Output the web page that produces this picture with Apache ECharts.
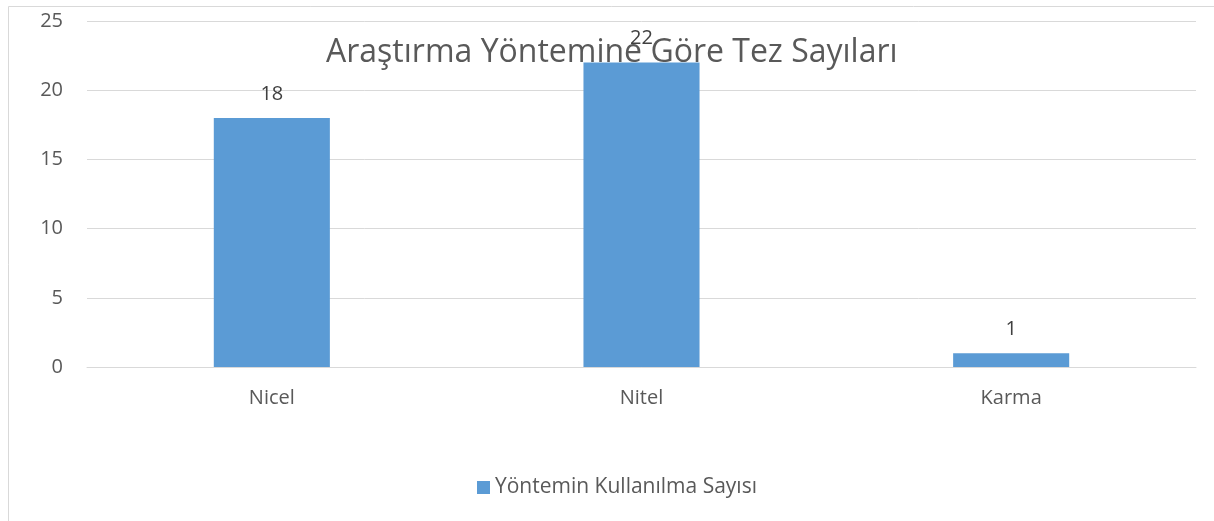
<!DOCTYPE html>
<html>
<head>
<meta charset="utf-8">
<script src="https://cdn.jsdelivr.net/npm/echarts@6/dist/echarts.min.js"></script>
<style>
  html, body { margin: 0; padding: 0; background: #fff; }
  #chart { width: 1214px; height: 521px; }
</style>
</head>
<body>
<div id="chart"></div>
<script>
const chartTitle = 'Araştırma Yöntemine Göre Tez Sayıları';
const seriesName = 'Yöntemin Kullanılma Sayısı';
const categories = ['Nicel', 'Nitel', 'Karma'];
const counts = [18, 22, 1];
const yTicks = { min: 0, max: 25, interval: 5 };

const FONT = '"Open Sans", "Noto Sans", sans-serif';
const chart = echarts.init(document.getElementById('chart'), null, { renderer: 'canvas' });

chart.setOption({
  animation: false,
  backgroundColor: '#ffffff',
  graphic: [{
    type: 'rect',
    silent: true,
    z: -1,
    shape: { x: 8.5, y: 6.5, width: 1230, height: 600 },
    style: { fill: 'none', stroke: '#d9d9d9', lineWidth: 1 }
  }],
  title: {
    text: chartTitle,
    left: 321,
    top: 32,
    textStyle: { fontFamily: FONT, fontSize: 32, fontWeight: 'normal', color: '#595959' }
  },
  legend: {
    data: [seriesName],
    left: 472,
    top: 472,
    icon: 'rect',
    itemWidth: 13,
    itemHeight: 13,
    itemGap: 6,
    textStyle: { fontFamily: FONT, fontSize: 21, color: '#595959', padding: [0, 0, 0, 0] }
  },
  grid: { left: 87, right: 18, top: 21, height: 346, containLabel: false },
  xAxis: {
    type: 'category',
    data: categories,
    axisLine: { show: true, lineStyle: { color: '#d9d9d9', width: 1 } },
    axisTick: { show: false },
    axisLabel: { fontFamily: FONT, fontSize: 20, color: '#595959', margin: 21 }
  },
  yAxis: {
    type: 'value',
    min: yTicks.min,
    max: yTicks.max,
    interval: yTicks.interval,
    axisLine: { show: false },
    axisTick: { show: false },
    axisLabel: { fontFamily: FONT, fontSize: 20, color: '#595959', margin: 24 },
    splitLine: { lineStyle: { color: '#d9d9d9', width: 1 } }
  },
  series: [{
    name: seriesName,
    type: 'bar',
    data: counts,
    barWidth: '31.4%',
    itemStyle: { color: '#5b9bd5' },
    label: {
      show: true,
      position: 'top',
      distance: 14,
      fontFamily: FONT,
      fontSize: 20,
      color: '#404040'
    }
  }]
});
</script>
</body>
</html>
